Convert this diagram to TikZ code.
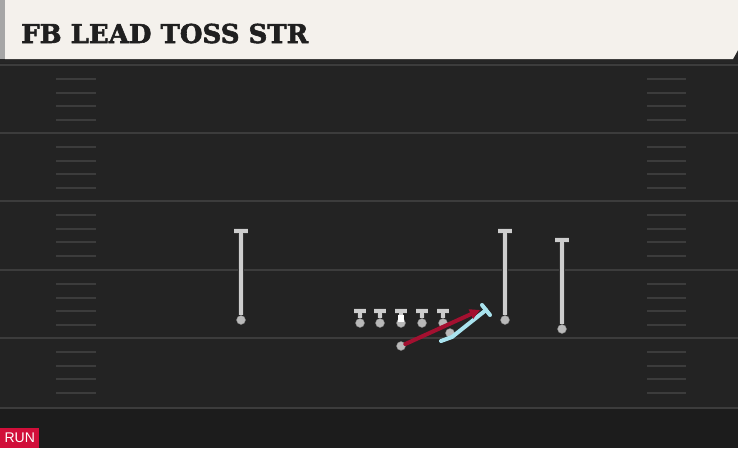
\documentclass[tikz,border=0pt]{standalone}
\usepackage{fontspec}
\setmainfont{Liberation Sans}
\newfontfamily\titlefont{DejaVu Serif}[BoldFeatures={FakeBold=2.2}]
\usetikzlibrary{arrows.meta}

\definecolor{field}{HTML}{232323}
\definecolor{fieldlow}{HTML}{1C1C1C}
\definecolor{fieldline}{HTML}{3C3C3C}
\definecolor{header}{HTML}{F4F1EC}
\definecolor{runred}{HTML}{D10F3A}
\definecolor{routered}{HTML}{A31030}
\definecolor{routeblue}{HTML}{A9E3EE}
\definecolor{player}{HTML}{CDCDCD}

\begin{document}
\begin{tikzpicture}[x=1pt, y=-1pt,
    dot/.style = {circle, fill=gray!55, draw=black!50, inner sep=0pt, minimum size=9pt},
    tee/.style = {draw=player, line width=4.6pt, preaction={draw=black!80, line width=6.4pt}},
    hash/.style = {draw=fieldline, line width=2pt},
    yard/.style = {draw=fieldline, line width=2pt},
    route/.style = {line width=4pt, line cap=round}]
\useasboundingbox (0,0) rectangle (738,448);
% field and header
\fill[field] (0,0) rectangle (738,448);
\fill[fieldlow] (0,408) rectangle (738,448);
\fill[black!85] (0,0) rectangle (738,63);
\fill[header] (5,0) -- (738,0) -- (738,50) -- (733,59) -- (5,59) -- cycle;
\fill[gray!70] (0,0) rectangle (5,59);
\node[anchor=base west, inner sep=0pt, text=black!88] (title) at (21,43)
    {\titlefont\bfseries\fontsize{26}{26}\selectfont FB LEAD TOSS STR};
% yard lines and hashes
\foreach \yl in {65,133,201,270,338,408}
    \draw[yard] (0,\yl) -- (738,\yl);
\foreach \yl in {65,133,201,270,338}
    \foreach \d in {14,27.5,41,55} {
        \draw[hash] (56,\yl+\d) -- (96,\yl+\d);
        \draw[hash] (647,\yl+\d) -- (686,\yl+\d);
    }
% receivers
\foreach \x/\yb/\yd/\n in {241/231/320/wrl, 505/231/320/wrr, 562/240/329/slot} {
    \node[dot] (\n) at (\x,\yd) {};
    \draw[tee] (\x-7,\yb) -- (\x+7,\yb) (\x,\yb) -- (\n);
}
% line
\foreach \x/\n in {360/lt, 380/lg, 401/c, 422/rg, 443/rt} {
    \node[dot] (\n) at (\x,323) {};
    \draw[tee] (\x-6,311) -- (\x+6,311) (\x,311) -- (\n);
}
\node[fill=white, inner sep=0pt, minimum width=6pt, minimum height=7pt] (snap) at (401,318.5) {};
% backs
\node[dot] (fb) at (450,333) {};
\node[dot] (rb) at (401,346) {};
\coordinate (fbtail) at (441,341);
\coordinate (fbbend) at (452,337);
\coordinate (fbend) at (486,310);
\coordinate (blkl) at (482,305);
\coordinate (blkr) at (490,315);
\coordinate (tip) at (480,310);
% routes
\draw[route, routeblue] (fbtail) -- (fbbend) -- (fbend);
\draw[route, routeblue] (blkl) -- (blkr);
\draw[route, routered, -{Triangle[length=10pt, width=10pt]}] (rb) -- (tip);
% play type tag
\node[fill=runred, text=white, inner sep=0pt, minimum width=39pt, minimum height=20pt,
    anchor=south west, font=\fontsize{14}{14}\selectfont] (run) at (0,448) {RUN};
\end{tikzpicture}
\end{document}
